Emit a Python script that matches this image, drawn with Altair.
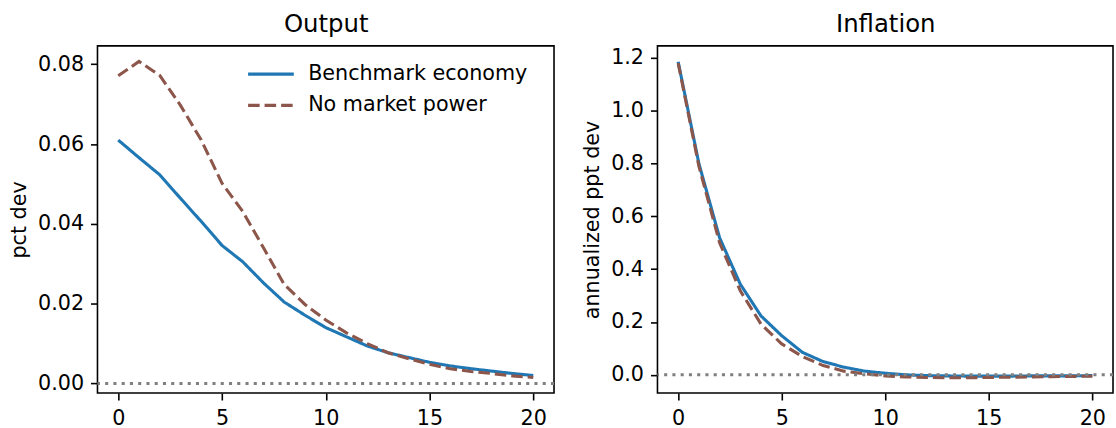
import altair as alt
import pandas as pd

# ---- data ----
t = list(range(21))
series_names = ["Benchmark economy", "No market power"]

out_bench = [0.0610, 0.0566, 0.0523, 0.0464, 0.0406, 0.0346, 0.0305, 0.0252, 0.0204, 0.0171,
             0.0140, 0.0117, 0.0094, 0.0077, 0.0065, 0.0053, 0.0044, 0.0037, 0.0031, 0.0025, 0.0020]
out_nomp = [0.0771, 0.0807, 0.0772, 0.0697, 0.0610, 0.0502, 0.0431, 0.0340, 0.0248, 0.0198,
            0.0159, 0.0127, 0.0100, 0.0077, 0.0062, 0.0048, 0.0037, 0.0030, 0.0025, 0.0019, 0.0015]

inf_bench = [1.185, 0.800, 0.519, 0.343, 0.223, 0.148, 0.085, 0.050, 0.029, 0.014,
             0.006, 0.000, -0.003, -0.004, -0.005, -0.005, -0.005, -0.004, -0.004, -0.004, -0.003]
inf_nomp = [1.180, 0.790, 0.500, 0.318, 0.192, 0.117, 0.069, 0.035, 0.014, 0.004,
            -0.004, -0.008, -0.010, -0.011, -0.011, -0.010, -0.009, -0.008, -0.007, -0.006, -0.005]

x_ticks = [0, 5, 10, 15, 20]
out_ticks = [0.0, 0.02, 0.04, 0.06, 0.08]
inf_ticks = [0.0, 0.2, 0.4, 0.6, 0.8, 1.0, 1.2]

FONT = "DejaVu Sans"
FS = 20.8
COLORS = ["#1f77b4", "#8c564b"]
DASHES = [[1, 0], [11.6, 5]]
LW = 3.1


def long_df(a, b):
    rows = []
    for name, vals in zip(series_names, [a, b]):
        for tt, v in zip(t, vals):
            rows.append({"t": tt, "v": v, "s": name})
    return pd.DataFrame(rows)


def panel(df, title, ytitle, ydomain, yticks, yfmt, legend, w):
    xscale = alt.Scale(domain=[-1, 21], nice=False, zero=False)
    yscale = alt.Scale(domain=ydomain, nice=False, zero=False)
    x = alt.X("t:Q", scale=xscale,
              axis=alt.Axis(values=x_ticks, format="d", title=None))
    y = alt.Y("v:Q", scale=yscale,
              axis=alt.Axis(values=yticks, format=yfmt, title=ytitle))
    color = alt.Color("s:N", scale=alt.Scale(domain=series_names, range=COLORS),
                      legend=legend, title=None)
    dash = alt.StrokeDash("s:N", scale=alt.Scale(domain=series_names, range=DASHES),
                          legend=legend, title=None)
    lines = alt.Chart(df).mark_line(strokeWidth=LW, clip=True).encode(
        x=x, y=y, color=color, strokeDash=dash)
    zero = alt.Chart(pd.DataFrame({"z": [0]})).mark_rule(
        color="gray", strokeWidth=LW, strokeDash=[3.1, 5.2], strokeCap="butt"
    ).encode(y=alt.datum(0))
    # invisible layer carrying the panel title as a top axis title
    top = alt.Chart(df).mark_line(opacity=0).encode(
        x=alt.X("t:Q", scale=xscale,
                axis=alt.Axis(orient="top", labels=False, ticks=False, domain=False,
                              title=title, titleFontSize=24.5, titlePadding=9.6)),
        y=y,
        detail="s:N",
    )
    return alt.layer(lines, zero, top).properties(
        width=w, height=349,
    ).resolve_axis(x="independent").resolve_scale(
        color="independent", strokeDash="independent")


leg = alt.Legend(orient="none", legendX=164, legendY=18, symbolType="M-4,0L4,0",
                 symbolSize=132, symbolStrokeWidth=LW, labelFont=FONT,
                 labelFontSize=FS, labelColor="black", labelOffset=27,
                 rowPadding=9.4, padding=0, labelLimit=400)

left = panel(long_df(out_bench, out_nomp), "Output", "pct dev",
             [-0.0024, 0.0846], out_ticks, ".2f", leg, 459)
right = panel(long_df(inf_bench, inf_nomp), "Inflation", "annualized ppt dev",
              [-0.069, 1.245], inf_ticks, ".1f", None, 458)

chart = alt.hconcat(left, right, spacing=24).resolve_scale(
    color="independent", strokeDash="independent"
).resolve_legend(color="independent", strokeDash="independent").properties(
    padding={"left": 7, "top": 9, "right": 0, "bottom": 0},
    background="white",
).configure_view(
    stroke="black", strokeWidth=1.6
).configure_axis(
    domain=False, grid=False, tickColor="black", tickSize=7, tickWidth=1.6,
    labelFont=FONT, labelFontSize=FS, labelColor="black", labelPadding=7,
    titleFont=FONT, titleFontSize=FS, titleFontWeight="normal", titleColor="black",
    titlePadding=8,
).configure_axisX(labelPadding=9)

chart.save("out.html", embed_options={"renderer": "svg", "actions": False})
